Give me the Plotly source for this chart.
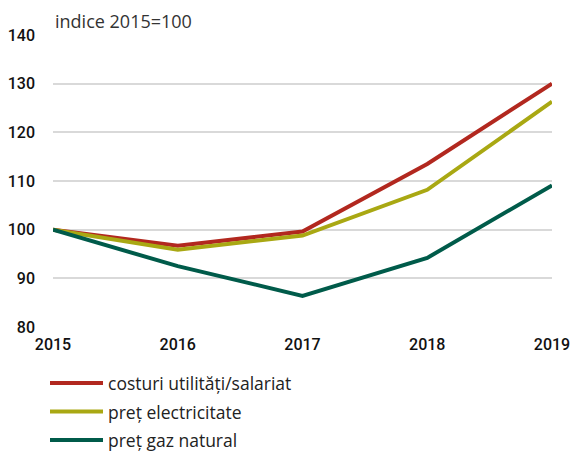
import plotly.graph_objects as go

years = [2015, 2016, 2017, 2018, 2019]
costuri = [100, 96.7, 99.6, 113.5, 130.0]
electricitate = [100, 95.9, 98.8, 108.2, 126.3]
gaz = [100, 92.5, 86.4, 94.2, 109.1]
series_names = ["costuri utilități/salariat", "preț electricitate", "preț gaz natural"]
colors = ["#B2281F", "#A9A813", "#005B4A"]
y_ticks = [80, 90, 100, 110, 120, 130, 140]

W, H = 572, 452
L, R, T, B = 53, 20, 35, 125
pw, ph = W - L - R, H - T - B

fig = go.Figure()
for name, vals, col in zip(series_names, [costuri, electricitate, gaz], colors):
    fig.add_trace(go.Scatter(x=years, y=vals, mode="lines", name=name,
                             line=dict(color=col, width=4), cliponaxis=False,
                             showlegend=False))

# manual legend (longer swatch lines like the reference)
shapes, annos = [], []
for i, (name, col) in enumerate(zip(series_names, colors)):
    py = 383 + i * 28.5
    yp = (H - B - py) / ph
    shapes.append(dict(type="line", xref="paper", yref="paper",
                       x0=(50 - L) / pw, x1=(103 - L) / pw, y0=yp, y1=yp,
                       line=dict(color=col, width=4)))
    annos.append(dict(text=name, xref="paper", yref="paper", x=(106 - L) / pw, y=yp,
                      xanchor="left", yanchor="middle", showarrow=False,
                      font=dict(family="Open Sans, sans-serif", size=17.5, color="#222")))

annos.append(dict(text="indice 2015=100", xref="paper", yref="paper", x=(53 - L) / pw, y=1.0,
                  xanchor="left", yanchor="bottom", showarrow=False, yshift=0,
                  font=dict(family="Open Sans, sans-serif", size=18, color="#333")))

tick_font = dict(family="Roboto, sans-serif", size=16, color="#111", weight=500)
fig.update_layout(
    width=W, height=H,
    margin=dict(l=L, r=R, t=T, b=B),
    plot_bgcolor="white", paper_bgcolor="white",
    showlegend=False,
    xaxis=dict(range=[2015, 2019], tickvals=years, ticktext=[str(y) for y in years],
               showgrid=False, zeroline=False, showline=False, ticks="",
               ticklabelstandoff=6, automargin=False, tickfont=tick_font),
    yaxis=dict(range=[80, 140], tickvals=y_ticks, showgrid=True, gridcolor="#d9d9d9",
               gridwidth=2, zeroline=False, showline=False, ticks="", ticklabelstandoff=17,
               automargin=False, tickfont=tick_font),
    shapes=shapes,
    annotations=annos,
)
fig.write_html("out.html", config={"displayModeBar": False},
               post_script="document.body.style.margin='0';document.body.style.padding='0';")
